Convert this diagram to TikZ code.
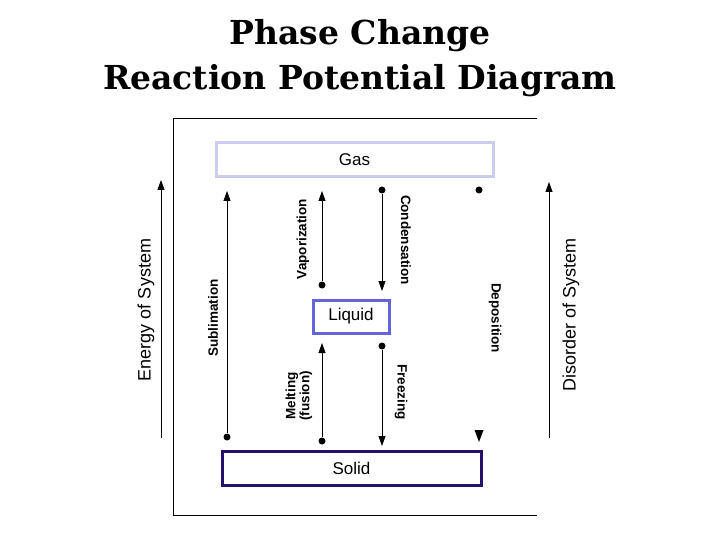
\documentclass[tikz,border=0pt]{standalone}
\usepackage{fontspec}
\setmainfont{Liberation Sans}
\newfontfamily\titlefont{DejaVu Serif}
\usetikzlibrary{arrows.meta}
\begin{document}
\begin{tikzpicture}[x=1pt,y=-1pt,
  st/.style={draw,line width=3pt,minimum height=34pt,inner sep=0pt,font=\fontsize{17}{17}\selectfont},
  proc/.style={font=\bfseries\fontsize{13.5}{14}\selectfont,align=center},
  axl/.style={font=\fontsize{18}{18}\selectfont},
  ar/.style={-{Triangle[length=10pt,width=7pt]},line width=0.8pt},
  dot/.style={circle,fill,inner sep=0pt,minimum size=7pt}]
\useasboundingbox (0,0) rectangle (720,540);
\node[font=\titlefont\bfseries\fontsize{33}{33}\selectfont] (t1) at (360,36) {Phase Change};
\node[font=\titlefont\bfseries\fontsize{33}{33}\selectfont] (t2) at (360,81) {Reaction Potential Diagram};
\draw[line width=0.8pt] (537,118) -- (173,118) -- (173,515) -- (537,515);
\node[st,draw={rgb,255:red,204;green,204;blue,240},minimum width=277pt] (gas) at (354.5,160) {Gas};
\node[st,draw={rgb,255:red,100;green,100;blue,220},minimum width=76pt,minimum height=33pt] (liq) at (351,316.5) {Liquid};
\node[st,draw={rgb,255:red,40;green,16;blue,110},minimum width=259pt] (sol) at (351.5,468) {Solid};
\node[dot] (sd) at (227,437) {}; \coordinate (st) at (227,191);
\node[dot] (vd) at (322,285) {}; \coordinate (vt) at (322,191);
\node[dot] (cd) at (382,190) {}; \coordinate (ct) at (382,291);
\node[dot] (dd) at (479,190) {};
\node[dot] (md) at (322,441) {}; \coordinate (mt) at (322,343);
\node[dot] (fd) at (382,346) {}; \coordinate (ft) at (382,446);
\draw[ar] (sd) -- (st);
\draw[ar] (vd) -- (vt);
\draw[ar] (cd) -- (ct);
\draw[ar] (md) -- (mt);
\draw[ar] (fd) -- (ft);
\fill (474.5,430) -- (483.5,430) -- (479,442) -- cycle;
\node[proc,rotate=90] (sl) at (213,318) {Sublimation};
\node[proc,rotate=90] (vl) at (303,239) {Vaporization};
\node[proc,rotate=-90] (cl) at (406,240) {Condensation};
\node[proc,rotate=-90] (dl) at (495,318) {Deposition};
\node[proc,rotate=90] (ml) at (299,396) {Melting\\(fusion)};
\node[proc,rotate=-90] (fl) at (401,392) {Freezing};
\coordinate (e0) at (161,438); \coordinate (e1) at (161,180);
\draw[ar] (e0) -- (e1);
\node[axl,rotate=90] (el) at (146,310) {Energy of System};
\coordinate (d0) at (549,438); \coordinate (d1) at (549,182);
\draw[ar] (d0) -- (d1);
\node[axl,rotate=90] (dlab) at (571,315) {Disorder of System};
\end{tikzpicture}
\end{document}
